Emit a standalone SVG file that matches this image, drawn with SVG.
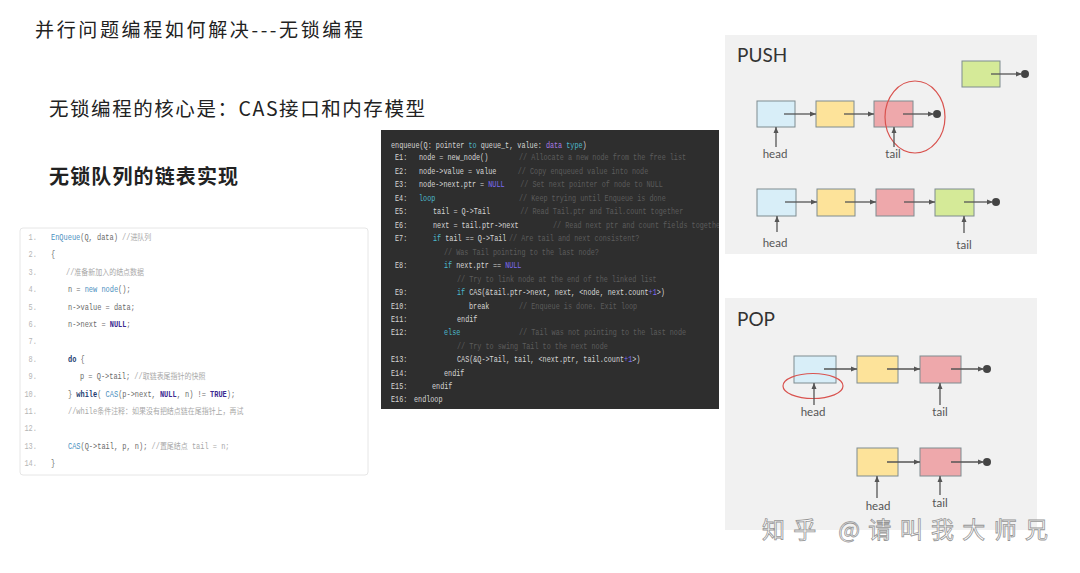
<svg xmlns="http://www.w3.org/2000/svg" width="1080" height="573" viewBox="0 0 1080 573">
<defs>
<marker id="ah" viewBox="0 0 6 6" refX="6" refY="3" markerWidth="6" markerHeight="6" markerUnits="userSpaceOnUse" orient="auto">
<path d="M0,0.5 L6,3 L0,5.5 Z" fill="#555"/>
</marker>
<clipPath id="darkclip"><rect x="381" y="130" width="338" height="279"/></clipPath>
</defs>
<style>
.title{font-family:"Noto Sans CJK SC","Noto Sans",sans-serif;fill:#222}
.lc{font-family:"Liberation Mono","Noto Sans CJK SC",monospace;font-size:8.5px;fill:#6a6a6a}
.ln{fill:#b5b5b5;text-anchor:end}
.lcm{fill:#a8a8a8}
.lfn{fill:#4a8fc0}
.lkw{fill:#233c70;font-weight:bold}
.lnull{fill:#3b2a90;font-weight:bold}
.dc{font-family:"Liberation Mono",monospace;font-size:8.5px;fill:#d6d6d6}
.dm{fill:#5c5c5c}
.dk{fill:#4cb8cc}
.dp{fill:#a97be2}
.dn{fill:#7d6cf5}
.panel{fill:#f1f1f1}
.ptitle{font-family:"Lato","Liberation Sans",sans-serif;font-size:19px;fill:#333}
.lbl{font-family:"Lato","Liberation Sans",sans-serif;font-size:11.5px;fill:#555;text-anchor:middle}
.box{stroke:#7f8c90;stroke-width:1}
.blue{fill:#d8eef8}
.yel{fill:#fde39a}
.pink{fill:#eea8ab}
.grn{fill:#d5ea98}
.arr{stroke:#555;stroke-width:1.3;fill:none;marker-end:url(#ah)}
.dot{fill:#444}
.ring{fill:none;stroke:#d9534f;stroke-width:1.2}
</style>
<rect width="1080" height="573" fill="#fff"/>

<g id="titles">
<text class="title" x="35" y="37" font-size="19" textLength="328" lengthAdjust="spacing">并行问题编程如何解决---无锁编程</text>
<text class="title" x="49" y="116" font-size="19.5" textLength="376" lengthAdjust="spacing">无锁编程的核心是：CAS接口和内存模型</text>
<text class="title" x="49" y="184" font-size="20" font-weight="bold" textLength="189" lengthAdjust="spacing">无锁队列的链表实现</text>
</g>

<g id="code-left">
<rect x="20" y="228" width="348" height="247" rx="3" fill="#fff" stroke="#e6e6e6"/>
<g transform="translate(20 0) scale(0.82 1)" class="lc">
<text x="20.7" y="240" class="ln">1.</text>
<text x="20.7" y="257.4" class="ln">2.</text>
<text x="20.7" y="274.8" class="ln">3.</text>
<text x="20.7" y="292.2" class="ln">4.</text>
<text x="20.7" y="309.6" class="ln">5.</text>
<text x="20.7" y="327" class="ln">6.</text>
<text x="20.7" y="344.4" class="ln">7.</text>
<text x="20.7" y="361.8" class="ln">8.</text>
<text x="20.7" y="379.2" class="ln">9.</text>
<text x="20.7" y="396.6" class="ln">10.</text>
<text x="20.7" y="414" class="ln">11.</text>
<text x="20.7" y="431.4" class="ln">12.</text>
<text x="20.7" y="448.8" class="ln">13.</text>
<text x="20.7" y="466.2" class="ln">14.</text>
<text x="37.8" y="240"><tspan class="lfn">EnQueue</tspan>(Q, data) <tspan class="lcm">//进队列</tspan></text>
<text x="37.8" y="257.4">{</text>
<text x="56.1" y="274.8" class="lcm">//准备新加入的结点数据</text>
<text x="58.5" y="292.2">n = <tspan class="lfn">new node</tspan>();</text>
<text x="58.5" y="309.6">n-&gt;value = data;</text>
<text x="58.5" y="327">n-&gt;next = <tspan class="lnull">NULL</tspan>;</text>
<text x="58.5" y="361.8"><tspan class="lkw">do</tspan> {</text>
<text x="73.2" y="379.2">p = Q-&gt;tail; <tspan class="lcm">//取链表尾指针的快照</tspan></text>
<text x="58.5" y="396.6">} <tspan class="lkw">while</tspan>( <tspan class="lfn">CAS</tspan>(p-&gt;next, <tspan class="lnull">NULL</tspan>, n) != <tspan class="lnull">TRUE</tspan>);</text>
<text x="58.5" y="414" class="lcm">//while条件注释：如果没有把结点链在尾指针上，再试</text>
<text x="58.5" y="448.8"><tspan class="lfn">CAS</tspan>(Q-&gt;tail, p, n); <tspan class="lcm">//置尾结点 tail = n;</tspan></text>
<text x="37.8" y="466.2">}</text>
</g>
</g>

<g id="code-dark">
<rect x="381" y="130" width="338" height="279" fill="#2e2e2e"/>
<g clip-path="url(#darkclip)">
<g transform="translate(381 0) scale(0.8 1)" class="dc">
<text x="12.5" y="148">enqueue(Q: pointer <tspan class="dk">to</tspan> queue_t, value: <tspan class="dp">data</tspan> <tspan class="dk">type</tspan>)</text>
<text x="17.5" y="160.5">E1:</text><text x="47.5" y="160.5">node = new_node()</text><text x="172.5" y="160.5" class="dm">// Allocate a new node from the free list</text>
<text x="17.5" y="174">E2:</text><text x="47.5" y="174">node-&gt;value = value</text><text x="171" y="174" class="dm">// Copy enqueued value into node</text>
<text x="17.5" y="187.5">E3:</text><text x="47.5" y="187.5">node-&gt;next.ptr = <tspan class="dn">NULL</tspan></text><text x="174" y="187.5" class="dm">// Set next pointer of node to NULL</text>
<text x="17.5" y="201">E4:</text><text x="47.5" y="201" class="dk">loop</text><text x="172.5" y="201" class="dm">// Keep trying until Enqueue is done</text>
<text x="17.5" y="214.5">E5:</text><text x="65" y="214.5">tail = Q-&gt;Tail</text><text x="174" y="214.5" class="dm">// Read Tail.ptr and Tail.count together</text>
<text x="17.5" y="228">E6:</text><text x="65" y="228">next = tail.ptr-&gt;next</text><text x="215" y="228" class="dm">// Read next ptr and count fields together</text>
<text x="17.5" y="241.5">E7:</text><text x="65" y="241.5"><tspan class="dk">if</tspan> tail == Q-&gt;Tail</text><text x="160" y="241.5" class="dm">// Are tail and next consistent?</text>
<text x="78.75" y="255" class="dm">// Was Tail pointing to the last node?</text>
<text x="17.5" y="268.5">E8:</text><text x="78.75" y="268.5"><tspan class="dk">if</tspan> next.ptr == <tspan class="dn">NULL</tspan></text>
<text x="95" y="282" class="dm">// Try to link node at the end of the linked list</text>
<text x="17.5" y="295.5">E9:</text><text x="95" y="295.5"><tspan class="dk">if</tspan> CAS(&amp;tail.ptr-&gt;next, next, &lt;node, next.count<tspan class="dn">+1</tspan>&gt;)</text>
<text x="12.5" y="309">E10:</text><text x="110" y="309">break</text><text x="172.5" y="309" class="dm">// Enqueue is done.  Exit loop</text>
<text x="12.5" y="322">E11:</text><text x="95" y="322">endif</text>
<text x="12.5" y="335.5">E12:</text><text x="78.75" y="335.5" class="dk">else</text><text x="172.5" y="335.5" class="dm">// Tail was not pointing to the last node</text>
<text x="95" y="349" class="dm">// Try to swing Tail to the next node</text>
<text x="12.5" y="362.5">E13:</text><text x="95" y="362.5">CAS(&amp;Q-&gt;Tail, tail, &lt;next.ptr, tail.count<tspan class="dn">+1</tspan>&gt;)</text>
<text x="12.5" y="376">E14:</text><text x="78.75" y="376">endif</text>
<text x="12.5" y="389">E15:</text><text x="63.75" y="389">endif</text>
<text x="12.5" y="402">E16:</text><text x="41.25" y="402">endloop</text>
</g>
</g>
</g>

<g id="push-panel">
<rect class="panel" x="725" y="35" width="312" height="219"/>
<text class="ptitle" x="737" y="62">PUSH</text>
</g>
<g id="push-new">
<rect class="box grn" x="962" y="61" width="38" height="26"/>
<circle class="dot" cx="1025" cy="74" r="4"/>
</g>
<g id="push-row1">
<rect class="box blue" x="757" y="101" width="38" height="26"/>
<rect class="box yel" x="816" y="101" width="38" height="26"/>
<rect class="box pink" x="874" y="101" width="39" height="26"/>
<circle class="dot" cx="937" cy="114" r="4"/>
<text class="lbl" x="775" y="158">head</text>
<text class="lbl" x="893" y="158">tail</text>
<ellipse class="ring" cx="915" cy="117" rx="30" ry="36"/>
</g>
<g id="push-row2">
<rect class="box blue" x="757" y="189" width="39" height="27"/>
<rect class="box yel" x="817" y="189" width="38" height="27"/>
<rect class="box pink" x="876" y="189" width="38" height="27"/>
<rect class="box grn" x="935" y="189" width="39" height="27"/>
<circle class="dot" cx="996" cy="202" r="4"/>
<text class="lbl" x="775" y="247">head</text>
<text class="lbl" x="964" y="249">tail</text>
</g>

<g id="pop-panel">
<rect class="panel" x="725" y="298" width="312" height="232"/>
<text class="ptitle" x="737" y="326">POP</text>
</g>
<g id="pop-row1">
<rect class="box blue" x="794" y="356" width="42" height="27"/>
<rect class="box yel" x="857" y="356" width="41" height="27"/>
<rect class="box pink" x="920" y="356" width="41" height="27"/>
<circle class="dot" cx="987" cy="369" r="4"/>
<text class="lbl" x="813" y="416">head</text>
<text class="lbl" x="940" y="416">tail</text>
<ellipse class="ring" cx="813" cy="386" rx="30" ry="12.5"/>
</g>
<g id="pop-row2">
<rect class="box yel" x="857" y="448" width="41" height="28"/>
<rect class="box pink" x="920" y="448" width="41" height="28"/>
<circle class="dot" cx="987" cy="462" r="4"/>
<text class="lbl" x="878" y="510">head</text>
<text class="lbl" x="940" y="507">tail</text>
</g>

<g id="connectors">
<line class="arr" x1="991" y1="74" x2="1022" y2="74"/>
<line class="arr" x1="784" y1="114" x2="816" y2="114"/>
<line class="arr" x1="844" y1="114" x2="874" y2="114"/>
<line class="arr" x1="903" y1="114" x2="934" y2="114"/>
<line class="arr" x1="776" y1="147" x2="776" y2="127"/>
<line class="arr" x1="894" y1="147" x2="894" y2="127"/>
<line class="arr" x1="785" y1="202" x2="817" y2="202"/>
<line class="arr" x1="845" y1="202" x2="876" y2="202"/>
<line class="arr" x1="904" y1="202" x2="935" y2="202"/>
<line class="arr" x1="964" y1="202" x2="993" y2="202"/>
<line class="arr" x1="777" y1="232" x2="777" y2="216"/>
<line class="arr" x1="964" y1="233" x2="964" y2="216"/>
<line class="arr" x1="824" y1="369" x2="857" y2="369"/>
<line class="arr" x1="887" y1="369" x2="920" y2="369"/>
<line class="arr" x1="951" y1="369" x2="984" y2="369"/>
<line class="arr" x1="814" y1="405" x2="814" y2="383"/>
<line class="arr" x1="940" y1="405" x2="940" y2="383"/>
<line class="arr" x1="887" y1="462" x2="920" y2="462"/>
<line class="arr" x1="951" y1="462" x2="984" y2="462"/>
<line class="arr" x1="877" y1="498" x2="877" y2="476"/>
<line class="arr" x1="940" y1="495" x2="940" y2="476"/>
</g>

<g id="watermark">
<text x="762" y="538" font-family="Noto Sans CJK SC, sans-serif" font-size="23" fill="#ffffff" stroke="#8c8c8c" stroke-width="0.8" opacity="0.9" textLength="286" lengthAdjust="spacing">知乎 @请叫我大师兄</text>
</g>
</svg>
